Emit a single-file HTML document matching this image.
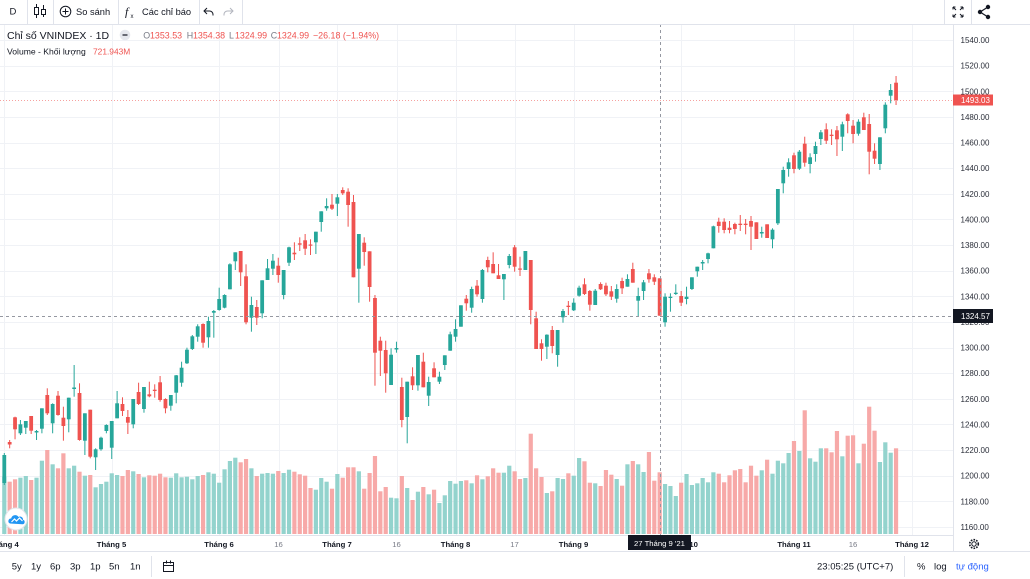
<!DOCTYPE html>
<html><head><meta charset="utf-8">
<style>
html,body{margin:0;padding:0;background:#fff;width:1030px;height:579px;overflow:hidden}
svg{display:block;font-family:"Liberation Sans","DejaVu Sans",sans-serif}
</style></head><body>
<svg id="s" width="1030" height="579" viewBox="0 0 1030 579" xmlns="http://www.w3.org/2000/svg">
<rect width="1030" height="579" fill="#fff"/>
<g id="grid" stroke="#f0f2f6" stroke-width="1"></g>
<g id="vol"></g>
<g id="cdl"></g>

<!-- crosshair + price line -->
<line x1="0" y1="100.5" x2="953" y2="100.5" stroke="#ef5350" stroke-opacity="0.55" stroke-width="1" stroke-dasharray="1,2"/>
<line x1="0" y1="316.5" x2="953" y2="316.5" stroke="#9598a1" stroke-width="1" stroke-dasharray="3,3"/>
<line x1="660.5" y1="24" x2="660.5" y2="535" stroke="#9598a1" stroke-width="1" stroke-dasharray="3,3"/>

<!-- frame lines -->
<line x1="0" y1="24.5" x2="1030" y2="24.5" stroke="#e0e3eb"/>
<line x1="953.5" y1="24" x2="953.5" y2="551" stroke="#e0e3eb"/>
<line x1="0" y1="535.5" x2="953" y2="535.5" stroke="#e0e3eb"/>
<line x1="0" y1="551.5" x2="1030" y2="551.5" stroke="#e0e3eb"/>

<!-- top toolbar -->
<g stroke="#e0e3eb">
<line x1="27.5" y1="0" x2="27.5" y2="24"/><line x1="53.5" y1="0" x2="53.5" y2="24"/>
<line x1="118.5" y1="0" x2="118.5" y2="24"/><line x1="199.5" y1="0" x2="199.5" y2="24"/>
<line x1="242.5" y1="0" x2="242.5" y2="24"/><line x1="944.5" y1="0" x2="944.5" y2="24"/>
<line x1="971.5" y1="0" x2="971.5" y2="24"/>
</g>
<text x="9.5" y="14.5" font-size="9.5" fill="#131722">D</text>
<g stroke="#131722" fill="#fff" stroke-width="1">
<line x1="36.5" y1="4" x2="36.5" y2="18"/><rect x="34.5" y="7.5" width="4" height="7"/>
<line x1="43.5" y1="5" x2="43.5" y2="17"/><rect x="41.5" y="9.5" width="4" height="5"/>
</g>
<circle cx="65.5" cy="11.5" r="5.3" fill="none" stroke="#131722" stroke-width="1"/>
<line x1="62.5" y1="11.5" x2="68.5" y2="11.5" stroke="#131722"/><line x1="65.5" y1="8.5" x2="65.5" y2="14.5" stroke="#131722"/>
<text x="76" y="14.8" font-size="9.3" fill="#131722">So sánh</text>
<text x="125" y="15.5" font-size="12" font-style="italic" font-family="Liberation Serif,serif" fill="#131722">f</text>
<text x="130.5" y="18" font-size="6" fill="#131722">x</text>
<text x="142" y="14.8" font-size="9.3" fill="#131722">Các chỉ báo</text>
<path d="M213 15.5 v-1 a3.5 3.5 0 0 0 -3.5 -3.5 h-5 M207 8 l-3 3 3 3" fill="none" stroke="#131722" stroke-width="1"/>
<path d="M224 15.5 v-1 a3.5 3.5 0 0 1 3.5 -3.5 h5 M230 8 l3 3 -3 3" fill="none" stroke="#b2b5be" stroke-width="1"/>
<g stroke="#131722" stroke-width="1" fill="none">
<path d="M953 7 l3 3 M953 7 h2.5 M953 7 v2.5"/>
<path d="M963 7 l-3 3 M963 7 h-2.5 M963 7 v2.5"/>
<path d="M953 17 l3 -3 M953 17 h2.5 M953 17 v-2.5"/>
<path d="M963 17 l-3 -3 M963 17 h-2.5 M963 17 v-2.5"/>
</g>
<g stroke="#131722" stroke-width="1.2" fill="#131722">
<line x1="988" y1="7" x2="980" y2="12"/><line x1="980" y1="12" x2="988" y2="17"/>
<circle cx="988" cy="7" r="1.6"/><circle cx="980" cy="12" r="1.6"/><circle cx="988" cy="17" r="1.6"/>
</g>

<!-- legend -->
<text x="7" y="38.8" font-size="10.5" fill="#131722">Chỉ số VNINDEX · 1D</text>
<circle cx="125" cy="35" r="5.3" fill="#e6e8ee"/>
<line x1="122.5" y1="35" x2="127.5" y2="35" stroke="#131722" stroke-width="1.2"/>
<g font-size="8.9">
<text x="143.3" y="38.3" fill="#787b86">O</text><text x="150" y="38.3" fill="#ef5350">1353.53</text>
<text x="186.7" y="38.3" fill="#787b86">H</text><text x="193" y="38.3" fill="#ef5350">1354.38</text>
<text x="229" y="38.3" fill="#787b86">L</text><text x="235" y="38.3" fill="#ef5350">1324.99</text>
<text x="270.7" y="38.3" fill="#787b86">C</text><text x="277" y="38.3" fill="#ef5350">1324.99</text>
<text x="313" y="38.3" fill="#ef5350">−26.18 (−1.94%)</text>
</g>
<text x="7" y="54.5" font-size="8.6" fill="#131722">Volume - Khối lượng</text>
<text x="93" y="54.5" font-size="8.4" fill="#ef5350">721.943M</text>

<!-- price axis -->
<g id="pax" font-size="8" fill="#2a2e39"></g>
<rect x="953" y="94.5" width="40" height="11" fill="#ef5350"/>
<text x="961" y="103" font-size="8" fill="#fff">1493.03</text>
<rect x="953" y="309" width="40" height="14" fill="#131722"/>
<text x="961" y="319" font-size="8" fill="#fff">1324.57</text>

<!-- time axis -->
<g font-size="7.7" font-weight="bold" fill="#131722" text-anchor="middle">
<text x="4" y="547">Tháng 4</text>
<text x="111.5" y="547">Tháng 5</text>
<text x="219" y="547">Tháng 6</text>
<text x="337" y="547">Tháng 7</text>
<text x="455.5" y="547">Tháng 8</text>
<text x="573.5" y="547">Tháng 9</text>
<text x="681" y="547">Tháng 10</text>
<text x="794" y="547">Tháng 11</text>
<text x="912" y="547">Tháng 12</text>
</g>
<g font-size="7.7" fill="#787b86" text-anchor="middle">
<text x="278.5" y="547">16</text>
<text x="396.5" y="547">16</text>
<text x="514.5" y="547">17</text>
<text x="853" y="547">16</text>
</g>
<rect x="628" y="535" width="63" height="15" fill="#131722"/>
<text x="659.5" y="546" font-size="7.7" fill="#fff" text-anchor="middle">27 Tháng 9 '21</text>
<circle cx="974" cy="544" r="2.2" fill="none" stroke="#131722" stroke-width="1"/>
<circle cx="974" cy="544" r="4.3" fill="none" stroke="#131722" stroke-width="1.6" stroke-dasharray="1.6,1.2"/>

<!-- logo -->
<circle cx="16" cy="519" r="11" fill="#fff" stroke="#e3e5ea" stroke-width="1"/>
<path d="M10 523.5 a2.6 2.6 0 0 1 1.2-5 a4 4 0 0 1 7.3-1.5 a3 3 0 0 1 4.5 2.8 a2.3 2.3 0 0 1 -0.5 4.5 z" fill="#2196f3"/>
<path d="M11.5 522 l3-3 2 2 3-3 3 3" fill="none" stroke="#fff" stroke-width="1.2"/>

<!-- bottom toolbar -->
<g font-size="9.5" fill="#131722">
<text x="11.7" y="569.5">5y</text><text x="31" y="569.5">1y</text><text x="50" y="569.5">6p</text>
<text x="70" y="569.5">3p</text><text x="90" y="569.5">1p</text><text x="109" y="569.5">5n</text>
<text x="130" y="569.5">1n</text>
<text x="817" y="569.5">23:05:25 (UTC+7)</text>
<text x="917" y="569.5">%</text><text x="934" y="569.5">log</text>
<text x="956" y="569.5" fill="#2962ff">tự động</text>
</g>
<line x1="151.5" y1="556" x2="151.5" y2="577" stroke="#e0e3eb"/>
<line x1="904.5" y1="556" x2="904.5" y2="577" stroke="#e0e3eb"/>
<g fill="none" stroke="#131722" stroke-width="1">
<rect x="163.5" y="562.5" width="10" height="9"/>
<line x1="163.5" y1="565.5" x2="173.5" y2="565.5"/>
<line x1="166.5" y1="560.5" x2="166.5" y2="563.5"/><line x1="170.5" y1="560.5" x2="170.5" y2="563.5"/>
</g>
</svg>
<script>
(function(){
var ns='http://www.w3.org/2000/svg';
function el(t,a,p){var e=document.createElementNS(ns,t);for(var k in a)e.setAttribute(k,a[k]);p.appendChild(e);return e;}
function py(p){return 40+(1540-p)*1.28158;}
var grid=document.getElementById('grid'),pax=document.getElementById('pax');
for(var p=1540;p>=1160;p-=20){
  var y=Math.round(py(p))+0.5;
  el('line',{x1:0,y1:y,x2:953,y2:y},grid);
  var t=el('text',{x:960.5,y:(py(p)+3).toFixed(1)},pax);t.textContent=p.toFixed(2);
}
[4,111.5,219,278.5,337,396.5,455.5,514.5,573.5,681,794,853,912].forEach(function(x){
  var xx=Math.round(x)+0.5;el('line',{x1:xx,y1:24,x2:xx,y2:535},grid);
});
var D=[
['G',455,483,453,485,476.7],['R',442,444.5,440,448.3,481.7],['R',417.3,429.3,416.7,439.3,479.3],['G',424.3,433.3,420,435,477.7],
['G',421,427.7,421,434,476],['R',416,430.7,416,434,480],['G',431,432.5,430,440,477.7],['G',408.3,428.7,408.3,433.3,460.7],
['R',395,413.3,388.3,415,450],['G',404,423.3,403.3,433.3,464.3],['R',395.7,415,391,415.7,468.3],['R',417.7,426,406.7,440.7,453.3],
['G',397.7,419.3,397.7,432.3,468.3],['G',387.5,389,365,396.7,465.7],['R',393,440,383.3,440.7,471.7],['G',413.3,440.7,413.3,455,475.7],
['R',409.7,456.7,409.7,458.3,475],['G',449.3,457.3,448.3,470,487.3],['G',437.7,449.3,436.7,450.7,484],['G',425,431,424.3,433.3,481.7],
['G',421,447.7,421,459,473.3],['G',403.3,418.3,391,418.3,475],['R',404,411,397.3,416,476],['R',417,422.7,410,434,470],
['G',399,424.3,399,428.3,471.3],['R',392,404,382.7,405,474],['G',387,409,387,412.7,477.3],['R',394.3,396.3,381.7,397.3,475.3],
['R',389.7,391,384.3,397.7,475.7],['R',382.3,400,376,401.7,473.7],['R',399,408.3,398.3,413.3,477.3],['G',395,405.7,395,410.7,477.7],
['G',375.3,392.7,375,403.3,473.3],['G',367.7,382.7,361.7,386.7,477.3],['G',349.7,363.3,347.7,364,476.7],['G',336.3,349,335,350,479.3],
['G',326.3,336.7,324.3,341.7,476],['R',324,342.7,323.3,347.7,475],['G',321,337.3,316.7,347.7,472.3],['G',311,312.7,310,337.7,473.7],
['G',299,310,287.7,310.7,482.7],['G',295,307.7,294.3,308.3,469.3],['G',264.3,289.3,263.3,289.3,461],['G',252.3,261.3,252.3,270,457.7],
['R',251,272.3,251,286,462.3],['R',276.3,322.3,264.3,324.3,459],['G',305,317.7,296.7,331.7,468.3],['R',307,317.7,300,325,476],
['G',280.3,313.3,280.3,318.3,473.7],['G',268.3,280,259,280,473],['G',260.7,268.7,254,275,473.7],['R',265.7,275,257.7,282.7,471],
['G',270,295,270,299.3,473],['G',247.3,262.7,246.7,266,469.7],['R',252.7,254.3,242.3,260,471.7],['R',243.3,244.7,237.3,251,474.3],
['R',240.3,248.7,234,255,475.7],['R',244.5,245.5,239.3,255,488],['G',231.7,242.3,231.7,254,489.7],['G',211.3,222,211.3,231.7,478],
['G',206,208.3,198.3,210.7,481.7],['R',204.7,208.7,194,210,488.7],['G',197.3,203.7,194,216,474],['R',190,193.3,187.3,195,477.7],
['R',191.7,205,188.3,226.7,467.3],['R',202,277.3,195,277.3,467.3],['G',234,268.7,234,302.7,471.3],['R',242.7,252,237.3,265.7,488.7],
['R',251.3,287,251.3,301.7,473],['R',298,352.7,295,385.7,456],['R',340.7,350.7,336.7,376,491.3],['R',350,373.3,340.7,392.7,487],
['G',354.7,385,348.3,385,497.7],['G',348,349.5,341.7,352.7,498.3],['R',387,420,377.7,427.3,476],['G',381.7,417,381.7,443.3,488],
['R',376.3,385.3,367.3,390,500],['G',355,385.3,355,390.7,491.7],['R',361.7,387.3,352.7,387.3,487],['G',382,395.7,376.7,406,494.3],
['R',368.3,377.3,362.3,377.3,489.7],['G',376.7,381.7,371.7,384,503],['G',355.3,365,355.3,370,495.3],['G',334.3,350.7,331.7,350.7,481],
['G',329,336.7,319.3,341.7,483.7],['G',305.3,326.7,305.3,326.7,481],['R',298.7,303.3,295,310.7,480.3],['G',289,307.7,286.7,312.7,483.3],
['R',285.7,294.3,280,296.7,475.3],['G',270,299,269,302.7,479.3],['R',260,267.3,256.7,272.3,476.3],['R',264,273.3,252.3,273.3,468.3],
['R',275.3,279,264,279,472.7],['G',274,279.3,274,300,472.7],['G',256,265,254,268.3,465.7],['R',247.3,266.7,245,271.7,471.3],
['R',268.5,269.5,256.7,276,479],['G',251,270,251,270,478],['R',260,310,260,324.3,433.7],['R',318.3,349,311.7,349,468.3],
['R',343.3,349,339.3,360.7,477],['G',334.7,346.7,334.3,359,493],['R',330,346,326,353.3,491.3],['G',330,355,330,366.7,478],
['G',311,317.3,309,322.7,479],['R',305.7,307,301,315,473.3],['G',302.7,310.3,298.3,311,475.7],['G',287.7,295.7,285.7,296.7,458],
['R',284.3,294,278.3,295,461.3],['R',291,304.7,290,310.7,482.7],['G',290.7,305,289,305,483.3],['R',284,289.3,282.3,290,486],
['R',285.7,294.3,282.7,296,470],['R',291.3,296.7,286,300,474.7],['G',289,298.7,284.3,302.7,479],['R',281,288.3,277.7,294,485.7],
['G',279,286.7,274.3,286.7,464.3],['R',269,282.7,262.7,282.7,461],['G',296,300.7,287.7,316,464.3],['G',282.3,291,280,300,472],
['R',273.3,279.3,269,282.7,452],['R',277.3,281.7,274.3,285,480.7],['R',278.3,315.7,278.3,315.7,472.3],['G',296.7,322.3,293.3,326.7,484],
['G',296.7,298,293.3,311.7,486],['G',292.7,294,284.3,295,496],['R',296,302.7,291,306,482.7],['G',296.7,299,286.7,304.3,474],
['G',277.3,289,277.3,290,485],['G',266.7,271.3,266.7,276.7,483.3],['G',262,263.5,260,270,478],['G',253.3,259,252.7,263.3,482.3],
['G',226.3,248.3,225.7,248.3,472.3],['R',221.7,226,217.7,232.7,473.7],['R',221.7,230,218.3,233.3,482.3],['R',227.7,230,221,233.3,475.3],
['R',224,229,222.7,234.3,470.3],['R',223.7,225,215,231,469],['R',223.7,225,219,234.3,482.3],['R',221,226.7,216,250,465.7],
['R',222.3,239,222.3,239,475.7],['G',232,233.5,226.7,237.7,470.3],['R',224.3,238,224.3,238,459.7],['G',229.7,239.3,228.3,248.3,473.7],
['G',189,223.3,189,225,460.7],['G',170,183.3,166.7,193.3,463.3],['G',162.3,169,158.3,176.7,453],['R',155.3,169,152.7,173.3,441],
['G',151.7,168.7,150,170,451],['R',143.7,162.7,136.7,166.7,410.3],['G',157.3,164,153.3,173.3,458.3],['G',146,154,141.7,161.7,461.7],
['G',132.3,139,130,145,448.3],['R',129.3,140.7,123.3,144,448.3],['R',134.7,136,129.3,145,452.3],['R',130.3,139.3,126,156,431],
['G',124.3,136.7,121.7,151,456.3],['R',114.3,121,113.3,133.3,435.7],['R',125.7,134,120,143.3,435.3],['G',121.7,133.7,119.3,135.7,463.3],
['R',117.3,130,112.7,130,443.7],['R',124,151.7,114,174.3,406.7],['R',150.7,158.7,143.3,164,430.7],['G',137.3,164,137.3,170,462],
['G',104.7,128.3,102.3,133.3,442.3],['G',90,95.7,84,103.3,452.7],['R',82.7,100,76,105,448.3]
];
var gv=document.getElementById('vol'),gc=document.getElementById('cdl');
D.forEach(function(d,i){
  var x=4.3+i*5.372,up=d[0]==='G';
  var col=up?'#26a69a':'#ef5350',vc=up?'#93d3cd':'#f7a9a8';
  el('rect',{x:(x-2.1).toFixed(2),y:d[5],width:4.2,height:(534-d[5]).toFixed(2),fill:vc},gv);
  el('rect',{x:(x-0.5).toFixed(2),y:d[3],width:1,height:Math.max(1,d[4]-d[3]).toFixed(2),fill:col},gc);
  el('rect',{x:(x-1.9).toFixed(2),y:d[1],width:3.8,height:Math.max(1.2,d[2]-d[1]).toFixed(2),fill:col},gc);
});
})();
</script>
</body></html>
